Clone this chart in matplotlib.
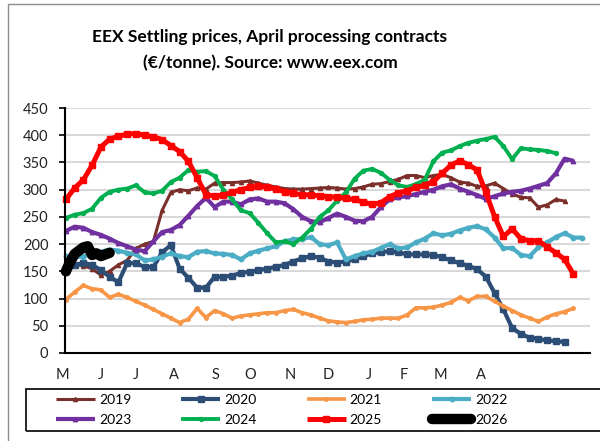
import numpy as np
import matplotlib
matplotlib.use('Agg')
from matplotlib import pyplot as plt
from matplotlib.patches import Rectangle
import matplotlib.transforms as mtransforms

plt.rcParams['font.family'] = ['Lato', 'DejaVu Sans']

# Weekly settlement prices (EUR/tonne), week 0 = start of May
years = ['2019', '2020', '2021', '2022', '2023', '2024', '2025', '2026']

p2019 = [165, 163, 160, 155, 143, 150, 162, 170, 192, 200, 205, 262, 295, 300, 298,
         303, 301, 312, 313, 313, 314, 316, 312, 308, 305, 302, 301, 301, 302, 303,
         304, 303, 301, 302, 305, 310, 311, 315, 319, 326, 326, 322, 326, 328, 322,
         314, 312, 306, 307, 312, 302, 292, 286, 285, 268, 272, 282, 279]
p2020 = [150, 162, 165, 162, 152, 140, 130, 165, 165, 158, 158, 185, 198, 155, 138,
         120, 120, 140, 140, 142, 147, 149, 152, 155, 158, 162, 168, 174, 178, 175,
         168, 166, 168, 172, 178, 183, 185, 187, 185, 181, 181, 181, 180, 176, 170,
         165, 160, 154, 140, 110, 80, 46, 35, 28, 26, 23, 22, 20]
p2021 = [98, 112, 124, 118, 116, 102, 108, 102, 95, 88, 80, 72, 64, 56, 62,
         82, 65, 78, 72, 64, 68, 70, 72, 74, 74, 78, 80, 74, 70, 64,
         59, 57, 56, 58, 61, 62, 64, 64, 64, 70, 83, 83, 84, 88, 93,
         102, 96, 104, 104, 95, 86, 78, 70, 64, 58, 66, 72, 76, 82]
p2022 = [178, 176, 177, 182, 186, 190, 188, 184, 181, 170, 172, 177, 183, 178, 176,
         186, 187, 183, 182, 180, 172, 183, 188, 192, 196, 205, 209, 209, 213, 200,
         198, 203, 172, 178, 183, 186, 193, 200, 192, 194, 203, 210, 220, 216, 219,
         225, 230, 233, 227, 212, 192, 193, 180, 178, 194, 203, 213, 220, 212, 212]
p2023 = [224, 232, 230, 222, 217, 210, 202, 196, 190, 187, 205, 222, 226, 235, 252,
         270, 285, 268, 278, 278, 273, 282, 284, 278, 278, 275, 264, 250, 242, 240,
         248, 256, 250, 243, 242, 250, 268, 282, 286, 288, 292, 296, 300, 306, 310,
         302, 296, 290, 283, 288, 293, 296, 298, 302, 307, 312, 330, 357, 353]
p2024 = [248, 254, 257, 265, 285, 296, 300, 302, 308, 295, 293, 298, 314, 322, 336,
         333, 334, 325, 300, 282, 262, 257, 239, 220, 203, 205, 200, 212, 228, 250,
         262, 280, 295, 320, 335, 338, 331, 318, 308, 305, 310, 318, 352, 368, 372,
         380, 386, 390, 393, 397, 380, 356, 376, 374, 373, 371, 367]
p2025 = [282, 303, 318, 345, 378, 393, 398, 402, 403, 400, 397, 392, 381, 370, 352,
         322, 291, 288, 290, 295, 300, 304, 306, 305, 301, 296, 293, 291, 290, 289,
         287, 286, 284, 282, 277, 273, 276, 287, 294, 298, 304, 308, 315, 330, 345,
         353, 346, 336, 295, 250, 214, 228, 210, 206, 206, 195, 184, 172, 145]
# 2026 so far, half-week steps
p2026 = [150, 168, 182, 188, 194, 196, 180, 183, 178, 181, 184]

months = ['M', 'J', 'J', 'A', 'S', 'O', 'N', 'D', 'J', 'F', 'M', 'A']
month_pos = [-0.34, 4.0, 8.0, 12.3, 17.1, 21.1, 25.7, 30.0, 34.6, 38.6, 42.8, 47.4]

series = [p2019, p2020, p2021, p2022, p2023, p2024, p2025, p2026]
steps = [1, 1, 1, 1, 1, 1, 1, 0.5]
colors = ['#7a2f2a', '#2c4d75', '#f79646', '#4bacc6', '#7030a0', '#00b050', '#ff0000', '#000000']
markers = ['^', 's', 'o', 'o', '^', 'o', 's', None]
widths = [2.2, 3.0, 2.6, 3.0, 3.0, 2.8, 3.6, 7.5]
msizes = [3.0, 4.0, 2.5, 3.2, 3.2, 2.8, 4.6, 0]

fig = plt.figure(figsize=(6, 4.41), dpi=100)
W, H = 600.0, 441.0
ax = fig.add_axes([65 / W, 88 / H, 525 / W, 245 / H])

lines = {}
for name, vals, st, c, m, lw, ms in zip(years, series, steps, colors, markers, widths, msizes):
    x = np.arange(len(vals)) * st
    ln, = ax.plot(x, vals, color=c, lw=lw, marker=m, ms=ms, mec=c, mfc=c,
                  solid_capstyle='round' if name == '2026' else 'butt',
                  solid_joinstyle='round', clip_on=False)
    lines[name] = ln

ax.set_xlim(-0.1, 59.9)
ax.set_ylim(0, 450)
ax.set_yticks(np.arange(0, 451, 50))
ax.grid(axis='y', color='#d9d9d9', lw=1.5)
ax.set_axisbelow(True)
for s in ['top', 'right']:
    ax.spines[s].set_visible(False)
ax.spines['left'].set_linewidth(1.5)
ax.spines['bottom'].set_linewidth(1.5)
ax.tick_params(axis='y', length=4, width=1.2, pad=8, labelsize=10.5, labelcolor='#222222')
ax.set_xticks([])

trans = mtransforms.blended_transform_factory(ax.transData, ax.transAxes)
for lab, pos in zip(months, month_pos):
    ax.text(pos, -22 / 245, lab, transform=trans, ha='center', va='center',
            fontsize=10.5, color='#222222')

fig.text(270 / W, 1 - 50.5 / H,
         'EEX Settling prices, April processing contracts\n(€/tonne). Source: www.eex.com',
         ha='center', va='center', fontsize=12.5, fontweight='bold', linespacing=1.75)

# outer chart border and legend box
fig.add_artist(Rectangle((8 / W, -0.1), 1.2, 1.1 - 4 / H, transform=fig.transFigure,
                         fill=False, edgecolor='#8c8c8c', lw=1))
fig.add_artist(Rectangle((26 / W, 10 / H), 1.2, 42 / H, transform=fig.transFigure,
                         fill=False, edgecolor='#000000', lw=1.2))

order = ['2019', '2023', '2020', '2024', '2021', '2025', '2022', '2026']
leg = fig.legend([lines[k] for k in order], order, ncol=4, loc='upper left',
                 bbox_to_anchor=(56 / W, 1 - 394 / H), frameon=False,
                 fontsize=10, handlelength=2.8, handletextpad=0.3,
                 columnspacing=3.6, labelspacing=0.6, borderpad=0, borderaxespad=0)

fig.savefig('out.png', dpi=100)
